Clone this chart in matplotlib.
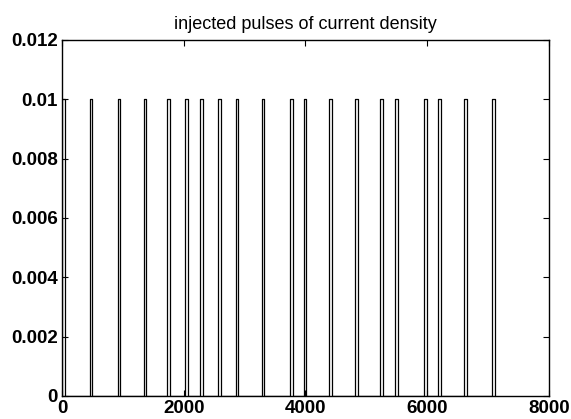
import numpy as np
import matplotlib.pyplot as plt

# pulse start times
pulse_starts = [0, 450, 910, 1340, 1720, 2020, 2270, 2560, 2850, 3280,
                3750, 3970, 4390, 4815, 5225, 5480, 5950, 6185, 6610, 7065]
pulse_width = 45
amplitude = 0.01

xticks = [0, 2000, 4000, 6000, 8000]
yticks = [0, 0.002, 0.004, 0.006, 0.008, 0.01, 0.012]
ytick_labels = ['0', '0.002', '0.004', '0.006', '0.008', '0.01', '0.012']

# build the rectangular pulse train
xs = []
ys = []
for s in pulse_starts:
    xs += [s, s, s + pulse_width, s + pulse_width]
    ys += [0, amplitude, amplitude, 0]

plt.rcParams['font.family'] = ['Liberation Sans', 'DejaVu Sans']

fig = plt.figure(figsize=(5.71, 4.19), dpi=100)
ax = fig.add_axes([0.109, 0.055, 0.852, 0.85])
ax.plot(xs, ys, color='black', lw=0.9)

ax.set_xlim(0, 8000)
ax.set_ylim(0, 0.012)
ax.set_xticks(xticks)
ax.set_yticks(yticks)
ax.set_yticklabels(ytick_labels)
ax.tick_params(direction='in', top=True, right=True, length=4, width=0.8,
               labelsize=13.5, pad=3)
for lbl in ax.get_xticklabels() + ax.get_yticklabels():
    lbl.set_fontweight('bold')
for sp in ax.spines.values():
    sp.set_linewidth(1.0)
ax.set_title('injected pulses of current density', fontsize=13, pad=8)

fig.savefig('out.png', dpi=100)
